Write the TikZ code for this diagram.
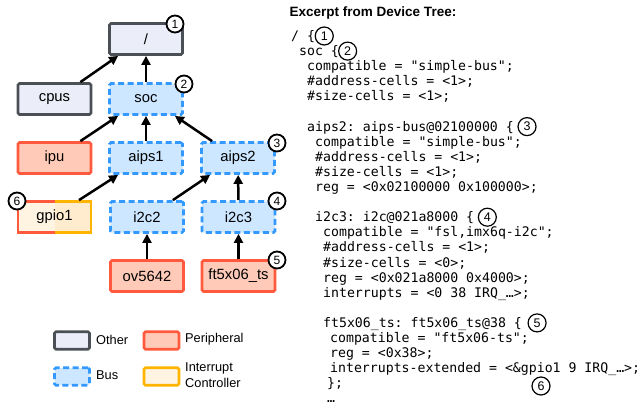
\documentclass[tikz,border=0pt]{standalone}
\usepackage{fontspec}
\setmainfont{Liberation Sans}
\setmonofont{DejaVu Sans Mono}
\usetikzlibrary{arrows.meta}
\definecolor{otherfill}{HTML}{EBEDF8}
\definecolor{otherdraw}{HTML}{4B5057}
\definecolor{perfill}{HTML}{FFCBB8}
\definecolor{perdraw}{HTML}{FF5A3D}
\definecolor{busfill}{HTML}{CCE7FF}
\definecolor{busdraw}{HTML}{3399FF}
\definecolor{intfill}{HTML}{FFF4E2}
\definecolor{intfilldark}{HTML}{FFECCE}
\definecolor{intdraw}{HTML}{FFB400}
\begin{document}
\begin{tikzpicture}[x=1pt,y=-1pt,
  box/.style={rectangle, rounded corners=1.5pt, minimum width=73pt, minimum height=31pt, line width=2.8pt, inner sep=0pt, font=\fontsize{14.8}{16}\selectfont},
  otherbox/.style={box, draw=otherdraw, fill=otherfill},
  perbox/.style={box, draw=perdraw, fill=perfill},
  busbox/.style={box, draw=busdraw, fill=busfill, dash pattern=on 6pt off 3.5pt},
  legbox/.style={minimum width=35pt, minimum height=17.5pt},
  num/.style={circle, draw=black, fill=white, line width=1.8pt, minimum size=17pt, inner sep=0pt, font=\fontsize{12}{12}\selectfont},
  cnum/.style={circle, draw=black, fill=white, line width=1.2pt, minimum size=18pt, inner sep=0pt, font=\fontsize{12.5}{12}\selectfont},
  arr/.style={line width=2.5pt, -{Triangle[length=9pt,width=9pt]}},
  code/.style={anchor=base west, inner sep=0pt, font=\ttfamily\fontsize{13.2}{15}\selectfont},
  leg/.style={anchor=west, inner sep=0pt, font=\fontsize{12.8}{16}\selectfont, align=left},
  half/.style={line width=2.8pt}
]
\useasboundingbox (0,0) rectangle (642,407);
\fill[white] (0,0) rectangle (642,407);

% ---------- tree nodes ----------
\node[otherbox] (root) at (146,39) {/};
\node[otherbox] (cpus) at (54.5,99) {cpus};
\node[busbox]   (soc)  at (146,99) {soc};
\node[perbox]   (ipu)  at (54.5,158) {ipu};
\node[busbox]   (aips1) at (146,158) {aips1};
\node[busbox]   (aips2) at (238,158) {aips2};
\node[box, outer sep=0pt] (gpio1) at (54.5,217) {};
\fill[intfill] (gpio1.north west) rectangle (gpio1.south);
\fill[intfilldark] (gpio1.north) rectangle (gpio1.south east);
\draw[half, perdraw] (gpio1.north) -- (gpio1.north west) -- (gpio1.south west) -- (gpio1.south);
\draw[half, intdraw] (gpio1.north) -- (gpio1.north east) -- (gpio1.south east) -- (gpio1.south);
\node[font=\fontsize{14.8}{16}\selectfont] at (gpio1) {gpio1};
\node[busbox]   (i2c2) at (147,217) {i2c2};
\node[busbox]   (i2c3) at (238.5,217) {i2c3};
\node[perbox]   (ov)   at (147,276) {ov5642};
\node[perbox]   (ft)   at (238.5,276) {ft5x06\_ts};

% ---------- connectors ----------
\draw[arr] ([xshift=-12pt]cpus.north east) -- ([xshift=10pt]root.south west);
\draw[arr] (soc) -- (root);
\draw[arr] ([xshift=-12pt]ipu.north east) -- ([xshift=10pt]soc.south west);
\draw[arr] (aips1) -- (soc);
\draw[arr] ([xshift=12pt]aips2.north west) -- ([xshift=-9pt]soc.south east);
\draw[arr] ([xshift=-12pt,yshift=1.4pt]gpio1.north east) -- ([xshift=10pt]aips1.south west);
\draw[arr] ([xshift=-12pt]i2c2.north east) -- ([xshift=10pt]aips2.south west);
\draw[arr] (i2c3) -- (aips2);
\draw[arr] (ov) -- (i2c2);
\draw[arr] (ft) -- (i2c3);

% ---------- numbered markers ----------
\node[num] (n1) at (175,24) {1};
\node[num] (n2) at (184,84) {2};
\node[num] (n3) at (277,143) {3};
\node[num] (n4) at (277,201) {4};
\node[num] (n5) at (277,260) {5};
\node[num] (n6) at (17,201) {6};

% ---------- legend ----------
\node[otherbox, legbox] (lo) at (72,340.5) {};
\node[perbox, legbox] (lp) at (161.5,340.5) {};
\node[busbox, legbox] (lb) at (72,376.5) {};
\node[box, legbox, draw=intdraw, fill=intfill] (li) at (161.5,376.5) {};
\node[leg] (to) at (96,339.5) {Other};
\node[leg] (tp) at (185,339.5) {Peripheral};
\node[leg] (tb) at (96,375.5) {Bus};
\node[leg] (ti) at (185,375) {Interrupt\\Controller};

% ---------- device tree excerpt ----------
\node[anchor=west, inner sep=0pt, font=\bfseries\fontsize{13.5}{15}\selectfont] (head) at (289.5,13) {Excerpt from Device Tree:};
\node[code] (l0)  at (291,40.5)  {/ \{};
\node[code] (l1)  at (299,55.6)  {soc \{};
\node[code] (l2)  at (307,70.7)  {compatible = "simple-bus";};
\node[code] (l3)  at (307,85.8)  {\#address-cells = <1>;};
\node[code] (l4)  at (307,100.9) {\#size-cells = <1>;};
\node[code] (l6)  at (307,131.1) {aips2: aips-bus@02100000 \{};
\node[code] (l7)  at (315,146.2) {compatible = "simple-bus";};
\node[code] (l8)  at (315,161.3) {\#address-cells = <1>;};
\node[code] (l9)  at (315,176.4) {\#size-cells = <1>;};
\node[code] (l10) at (315,191.5) {reg = <0x02100000 0x100000>;};
\node[code] (l12) at (315,221.7) {i2c3: i2c@021a8000 \{};
\node[code] (l13) at (323,236.8) {compatible = "fsl,imx6q-i2c";};
\node[code] (l14) at (323,251.9) {\#address-cells = <1>;};
\node[code] (l15) at (323,267)   {\#size-cells = <0>;};
\node[code] (l16) at (323,282.1) {reg = <0x021a8000 0x4000>;};
\node[code] (l17) at (323,297.2) {interrupts = <0 38 IRQ\_…>;};
\node[code] (l19) at (323,327.4) {ft5x06\_ts: ft5x06\_ts@38 \{};
\node[code] (l20) at (330,342.5) {compatible = "ft5x06-ts";};
\node[code] (l21) at (330,357.6) {reg = <0x38>;};
\node[code] (l22) at (330,372.7) {interrupts-extended = <\&gpio1 9 IRQ\_…>;};
\node[code] (l23) at (327,387.8) {\};};
\node[code] (l24) at (327,402.9) {…};

\node[cnum] (c1) at ([xshift=9pt,yshift=4.5pt]l0.base east) {1};
\node[cnum] (c2) at ([xshift=8.5pt,yshift=4.5pt]l1.base east) {2};
\node[cnum] (c3) at ([xshift=13pt,yshift=4.5pt]l6.base east) {3};
\node[cnum] (c4) at ([xshift=13pt,yshift=4.5pt]l12.base east) {4};
\node[cnum] (c5) at ([xshift=15pt,yshift=4.5pt]l19.base east) {5};
\node[cnum] (c6) at ([xshift=211pt,yshift=-13.3pt]l22.base west) {6};
\end{tikzpicture}
\end{document}
